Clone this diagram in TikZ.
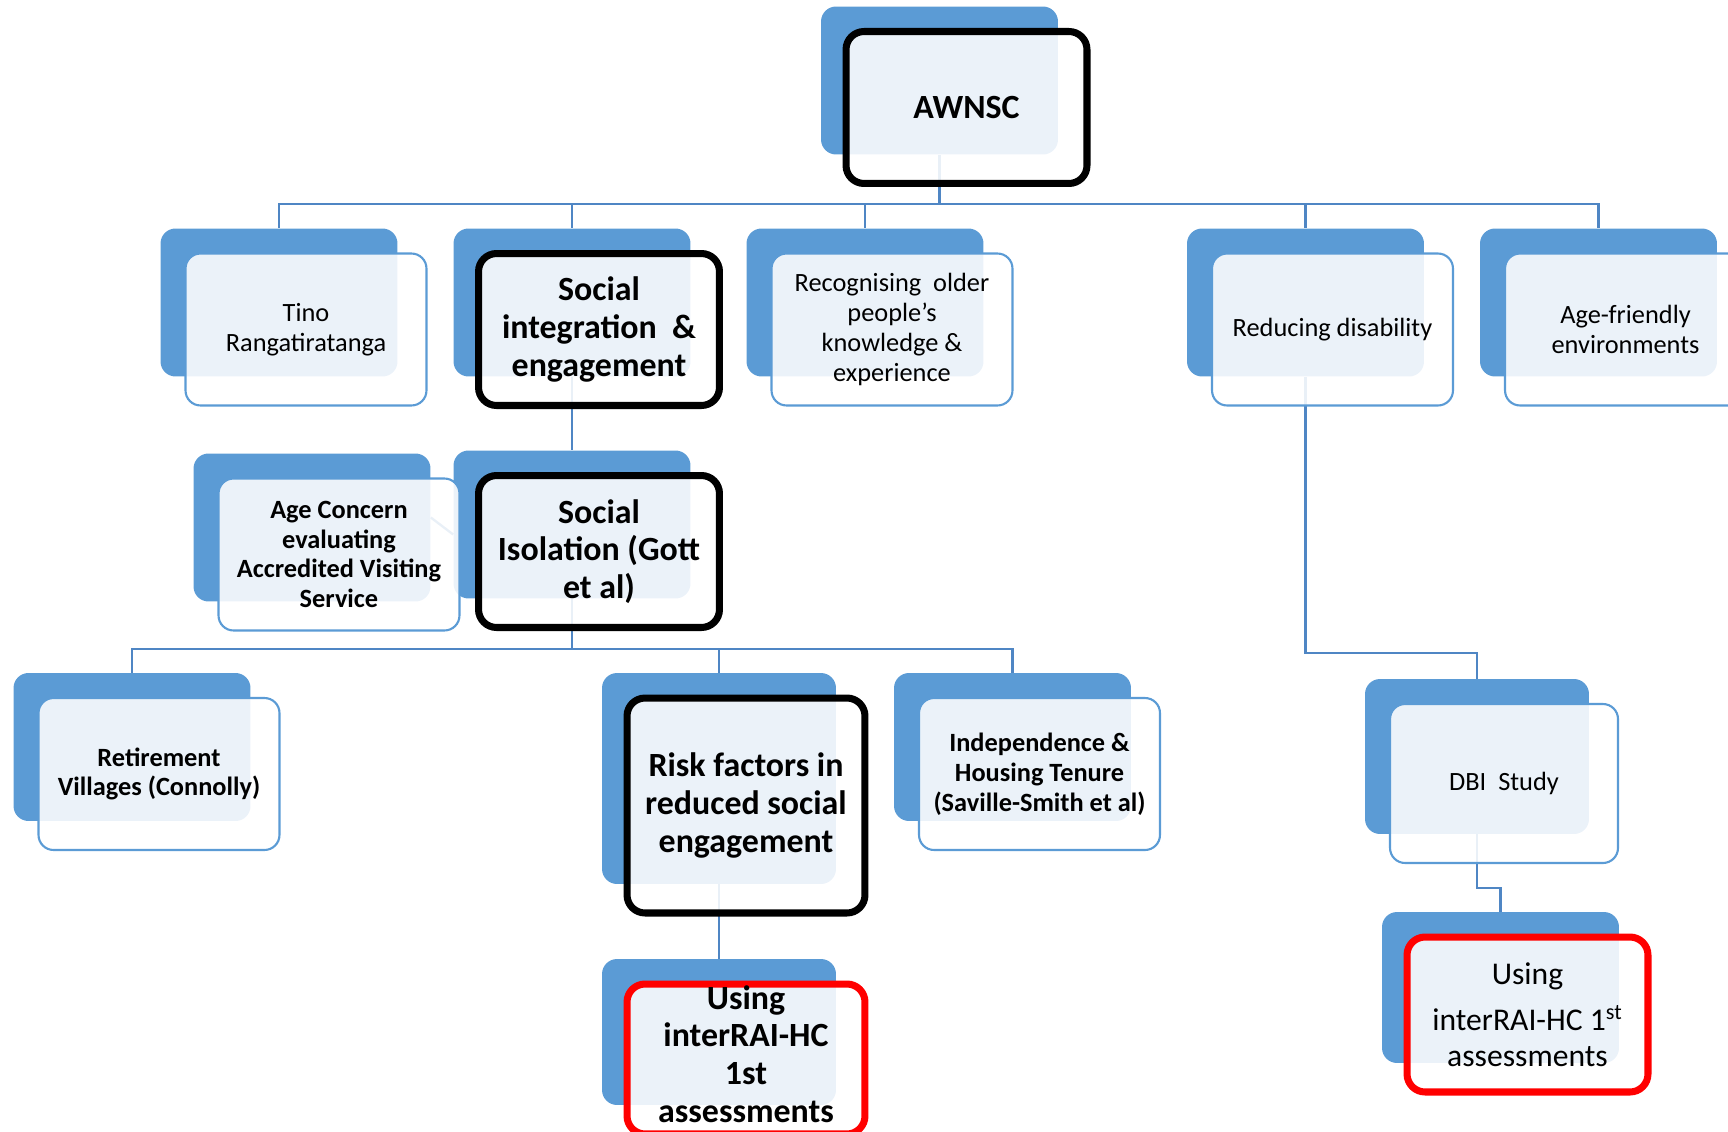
\documentclass[tikz,border=0pt]{standalone}
\usepackage{fontspec}
\setmainfont{Carlito}
\usetikzlibrary{positioning,calc}
\definecolor{backblue}{RGB}{91,155,213}
\definecolor{linkblue}{RGB}{79,134,196}
\definecolor{redframe}{RGB}{255,0,0}
\tikzset{
  backbox/.style={fill=backblue, rounded corners=0.3cm, minimum width=4.74cm, minimum height=2.96cm, inner sep=0pt},
  frontbox/.style={draw=backblue, line width=1.2pt, fill=white, fill opacity=0.88, text opacity=1, rounded corners=0.3cm, minimum width=4.82cm, minimum height=3.04cm, inner sep=0pt, align=center, font=\fontsize{15}{17}\selectfont},
  keybox/.style={draw=black, line width=4pt, rounded corners=0.36cm},
  redbox/.style={draw=redframe, line width=4pt, rounded corners=0.36cm},
  bigtxt/.style={font=\fontsize{19.3}{21.5}\selectfont\bfseries},
  boldtxt/.style={font=\fontsize{15}{17}\selectfont\bfseries},
  conn/.style={draw=linkblue, line width=1.3pt},
}

\begin{document}
\begin{tikzpicture}[x=0.02cm, y=-0.02cm]
  \clip (0,0) rectangle (1728,1132);

  % back plates
  \node[backbox] (awnscB) at (939.5,80.5) {};
  \node[backbox] (tinoB) at (279,302.5) {};
  \node[backbox] (socintB) at (572,302.5) {};
  \node[backbox] (recogB) at (865,302.5) {};
  \node[backbox] (reducB) at (1305.5,302.5) {};
  \node[backbox] (agefrB) at (1598.5,302.5) {};
  \node[backbox] (agecB) at (312,527.5) {};
  \node[backbox] (isolB) at (572,524.5) {};
  \node[backbox] (retireB) at (132,747) {};
  \node[backbox, minimum width=4.68cm, minimum height=4.22cm] (riskB) at (719,778.5) {};
  \node[backbox] (indepB) at (1012.5,747) {};
  \node[backbox, minimum width=4.68cm, minimum height=2.92cm] (usingLB) at (719,1032) {};
  \node[backbox, minimum width=4.48cm, minimum height=3.1cm] (dbiB) at (1477,756.5) {};
  \node[backbox, minimum height=3.02cm] (usingRB) at (1500.5,987.5) {};

  % connectors
  \coordinate (bus1) at (939.5,204);
  \draw[conn] (awnscB.south) -- (bus1);
  \foreach \c in {tinoB,socintB,recogB,reducB,agefrB}
    \draw[conn] (bus1) -| (\c.north);
  \draw[conn] (socintB.south) -- (isolB.north);
  \draw[conn] ($(agecB.east)+(0,-10)$) -- ($(isolB.west)+(0,10)$);
  \coordinate (bus2) at (572,649);
  \draw[conn] (isolB.south) -- (bus2);
  \foreach \c in {retireB,riskB,indepB}
    \draw[conn] (bus2) -| (\c.north);
  \draw[conn] (riskB.south) -- (usingLB.north);
  \coordinate (bend1) at (1305.5,653);
  \draw[conn] (reducB.south) -- (bend1) -| (dbiB.north);
  \coordinate (bend2) at (1477,888);
  \draw[conn] (dbiB.south) -- (bend2) -| (usingRB.north);

  % front cards
  \node[frontbox, keybox, bigtxt] (awnsc) at ([shift={(27,27)}]awnscB.center) {AWNSC};
  \node[frontbox] (tino) at ([shift={(27,27)}]tinoB.center) {Tino\\Rangatiratanga};
  \node[frontbox, keybox, bigtxt] (socint) at ([shift={(27,27)}]socintB.center) {Social\\integration\ \ \&\\engagement};
  \node[frontbox] (recog) at ([shift={(27,27)}]recogB.center) {Recognising\ \ older\\people’s\\knowledge \&\\experience};
  \node[frontbox] (reduc) at ([shift={(27,27)}]reducB.center) {Reducing disability};
  \node[frontbox] (agefr) at ([shift={(27,27)}]agefrB.center) {Age-friendly\\environments};
  \node[frontbox, boldtxt] (agec) at ([shift={(27,27)}]agecB.center) {Age Concern\\evaluating\\Accredited Visiting\\Service};
  \node[frontbox, keybox, bigtxt] (isol) at ([shift={(27,27)}]isolB.center) {Social\\Isolation (Gott\\et al)};
  \node[frontbox, boldtxt] (retire) at ([shift={(27,27)}]retireB.center) {Retirement\\Villages (Connolly)};
  \node[frontbox, keybox, bigtxt, minimum width=4.76cm, minimum height=4.3cm] (risk) at ([shift={(27,27)}]riskB.center) {Risk factors in\\reduced social\\engagement};
  \node[frontbox, boldtxt] (indep) at ([shift={(27,27)}]indepB.center) {Independence \&\\Housing Tenure\\(Saville-Smith et al)};
  \node[frontbox, redbox, minimum width=4.76cm, minimum height=3.0cm] (usingL) at ([shift={(27,27)}]usingLB.center) {};
  \node[bigtxt, align=center, inner sep=0pt] (usingLt) at ([yshift=0.1cm]usingL.center) {Using\\interRAI-HC\\1st\\assessments};
  \node[frontbox, minimum width=4.56cm, minimum height=3.18cm] (dbi) at ([shift={(27,27)}]dbiB.center) {DBI\ \ Study};
  \node[frontbox, redbox, minimum height=3.1cm, font=\fontsize{18}{20.4}\selectfont] (usingR) at ([shift={(27,27)}]usingRB.center) {Using\\[6pt]interRAI-HC 1\textsuperscript{st}\\assessments};
\end{tikzpicture}
\end{document}
